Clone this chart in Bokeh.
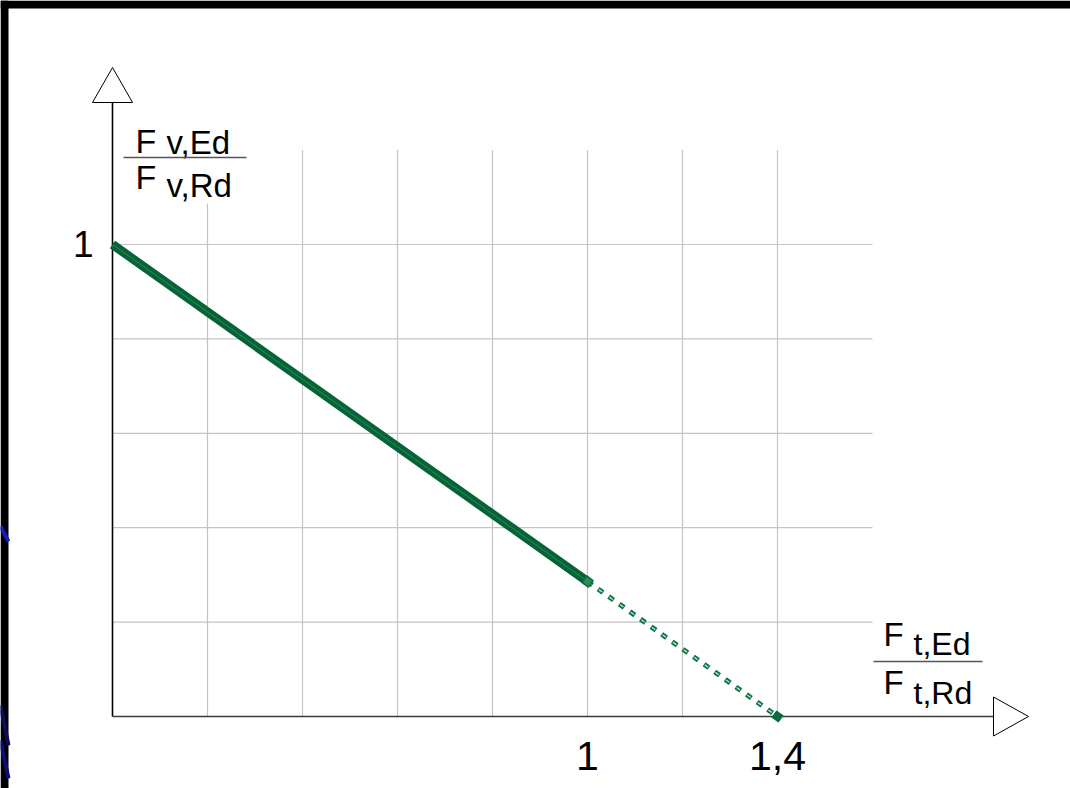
import math
from bokeh.plotting import figure
from bokeh.models import Range1d
from bokeh.core.properties import value
from bokeh.embed import file_html
from bokeh.resources import INLINE

# ---- data ----
x_solid = [0.0, 1.0]
y_solid = [1.0, 0.286]
x_dotted = [1.0, 1.4]
y_dotted = [0.286, 0.0]
grid_x = [0.2, 0.4, 0.6, 0.8, 1.0, 1.2, 1.4]
grid_y = [0.2, 0.4, 0.6, 0.8, 1.0]
grid_x_top = 1.2
grid_y_right = 1.6
xtick_vals = [1.0, 1.4]
xtick_labels = ["1", "1,4"]
ytick_vals = [1.0]
ytick_labels = ["1"]
ylab_main = "F"
ylab_num_sub = "v,Ed"
ylab_den_sub = "v,Rd"
xlab_main = "F"
xlab_num_sub = "t,Ed"
xlab_den_sub = "t,Rd"

# ---- image-pixel -> data helpers ----
W, H = 1070, 788
X0, Y0, SX, SY = 112.0, 716.0, 475.0, 472.0
def dx(px):
    return (px - X0) / SX
def dy(py):
    return (Y0 - py) / SY
def ddx(n):
    return n / SX
def ddy(n):
    return n / SY

FONT = value("Liberation Sans")

p = figure(width=W, height=H, output_backend="svg", toolbar_location=None,
           x_range=Range1d(dx(0), dx(W)), y_range=Range1d(dy(H), dy(0)),
           min_border=0, min_border_left=0, min_border_right=0,
           min_border_top=0, min_border_bottom=0)
p.xaxis.visible = False
p.yaxis.visible = False
p.grid.visible = False
p.outline_line_color = None
p.background_fill_color = "white"
p.border_fill_color = "white"

# black slide frame with blue decoration on the left
p.quad(left=[dx(0)], right=[dx(8)], bottom=[dy(H)], top=[dy(0)],
       fill_color="black", line_color=None)
p.quad(left=[dx(0)], right=[dx(W)], bottom=[dy(8)], top=[dy(0)],
       fill_color="black", line_color=None)
p.segment(x0=[dx(0), dx(0), dx(0)], y0=[dy(526), dy(705), dy(740)],
          x1=[dx(8), dx(8), dx(8)], y1=[dy(541), dy(745), dy(778)],
          line_color=["#1a1ab8", "#0c0c5a", "#0e0e70"], line_width=4)

# grid
p.segment(x0=grid_x, y0=[0] * len(grid_x), x1=grid_x, y1=[grid_x_top] * len(grid_x),
          line_color="#c4c4c4", line_width=1.2)
p.segment(x0=[0] * len(grid_y), y0=grid_y, x1=[grid_y_right] * len(grid_y), y1=grid_y,
          line_color="#c4c4c4", line_width=1.2)

# white box behind the y label
p.quad(left=[dx(120)], right=[dx(252)], bottom=[dy(203)], top=[dy(108)],
       fill_color="white", line_color=None)

# axes
p.segment(x0=[0], y0=[0], x1=[0], y1=[dy(102)], line_color="black", line_width=1.6)
p.segment(x0=[0], y0=[0], x1=[dx(993)], y1=[0], line_color="#3a3a3a", line_width=1.6)
# arrow heads
p.patch(x=[ddx(-20), ddx(20), 0], y=[dy(102), dy(102), dy(67)],
        fill_color="white", line_color="black", line_width=1)
p.patch(x=[dx(993), dx(993), dx(1028)], y=[ddy(19.5), ddy(-19.5), 0],
        fill_color="white", line_color="black", line_width=1)

# interaction line
p.line(x_solid, y_solid, line_color="#056437", line_width=9, line_cap="butt")
p.line(x_solid, y_solid, line_color="#3f8a60", line_width=1.2, line_alpha=0.6)
p.line(x_dotted, y_dotted, line_color="#0b7442", line_width=5, line_dash="6 7",
       line_cap="butt")
p.line(x_dotted, y_dotted, line_color="#ffffff", line_width=1.4, line_alpha=0.75,
       line_dash="4 9", line_dash_offset=-1, line_cap="butt")
ang = -math.atan2(SY * (y_dotted[0] - y_dotted[1]), SX * (x_dotted[1] - x_dotted[0]))
p.scatter([x_dotted[0]], [y_dotted[0]], marker="square", size=8, angle=ang,
          fill_color="#2f8a58", line_color="#0a6a3b", line_width=1.5)
p.scatter([x_dotted[1]], [y_dotted[1]], marker="square", size=8, angle=ang,
          fill_color="#0b6b3b", line_color="#0b6b3b")

# tick labels
p.text(x=[dx(93)] * len(ytick_vals), y=[v + ddy(0.5) for v in ytick_vals], text=ytick_labels,
       text_font=FONT, text_font_size="37px", text_align="right",
       text_baseline="middle", text_color="black")
p.text(x=xtick_vals, y=[dy(755)] * len(xtick_vals), text=xtick_labels,
       text_font=FONT, text_font_size="41px", text_align="center",
       text_baseline="middle", text_color="black")

# y axis label (fraction)
p.text(x=[dx(135), dx(135)], y=[dy(140), dy(176)], text=[ylab_main, ylab_main],
       text_font=FONT, text_font_size="34px", text_align="left",
       text_baseline="middle", text_color="black")
p.text(x=[dx(166), dx(166)], y=[dy(142), dy(185)], text=[ylab_num_sub, ylab_den_sub],
       text_font=FONT, text_font_size="33px", text_align="left",
       text_baseline="middle", text_color="black")
p.segment(x0=[dx(123)], y0=[dy(157)], x1=[dx(246)], y1=[dy(157)],
          line_color="#555555", line_width=1.5)

# x axis label (fraction)
p.text(x=[dx(883), dx(883)], y=[dy(634), dy(682)], text=[xlab_main, xlab_main],
       text_font=FONT, text_font_size="33px", text_align="left",
       text_baseline="middle", text_color="black")
p.text(x=[dx(913), dx(913)], y=[dy(643), dy(692)], text=[xlab_num_sub, xlab_den_sub],
       text_font=FONT, text_font_size="32px", text_align="left",
       text_baseline="middle", text_color="black")
p.segment(x0=[dx(873)], y0=[dy(661)], x1=[dx(982)], y1=[dy(661)],
          line_color="#555555", line_width=1.5)

open("out.html", "w").write(file_html(p, INLINE))
